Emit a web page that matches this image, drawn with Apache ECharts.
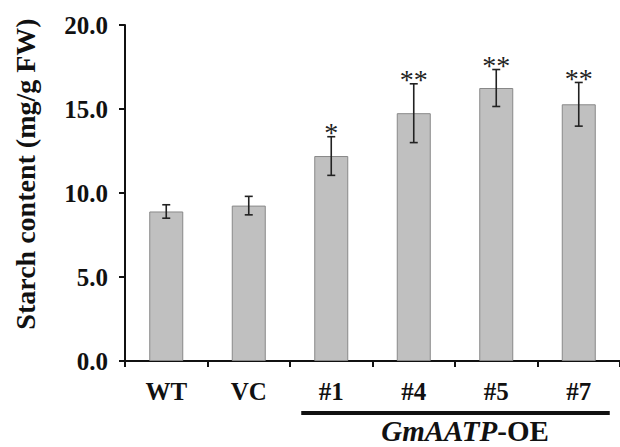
<!DOCTYPE html>
<html>
<head>
<meta charset="utf-8">
<script src="https://cdn.jsdelivr.net/npm/echarts@6/dist/echarts.min.js"></script>
<style>
  html, body { margin: 0; padding: 0; background: #fff; }
  #chart { width: 620px; height: 447px; }
</style>
</head>
<body>
<div id="chart"></div>
<script>
var categories = ['WT', 'VC', '#1', '#4', '#5', '#7'];
var means = [8.9, 9.25, 12.2, 14.75, 16.25, 15.28];
var errors = [0.4, 0.55, 1.15, 1.75, 1.1, 1.3];
var marks = ['', '', '*', '**', '**', '**'];
var groupFrom = 2, groupTo = 5;

var serif = '"Liberation Serif", "Times New Roman", serif';
var ink = '#111';

var chart = echarts.init(document.getElementById('chart'), null, { renderer: 'svg' });

chart.setOption({
  animation: false,
  grid: { left: 125, top: 25, bottom: 86, right: -10, containLabel: false },
  xAxis: {
    type: 'category',
    data: categories,
    axisLine: { lineStyle: { color: ink, width: 2 } },
    axisTick: { show: true, length: 6, lineStyle: { color: ink, width: 2 } },
    axisLabel: { color: ink, fontFamily: serif, fontWeight: 'bold', fontSize: 25, margin: 18 }
  },
  yAxis: {
    type: 'value',
    min: 0, max: 20, interval: 5,
    name: 'Starch content (mg/g FW)',
    nameLocation: 'middle',
    nameGap: 86,
    nameTextStyle: {
      color: ink, fontFamily: serif, fontWeight: 'bold', fontSize: 28,
      padding: [0, 0, 0, 38]
    },
    axisLine: { show: true, lineStyle: { color: ink, width: 2 } },
    axisTick: { show: true, length: 6, lineStyle: { color: ink, width: 2 } },
    axisLabel: {
      color: ink, fontFamily: serif, fontWeight: 'bold', fontSize: 25, margin: 17,
      formatter: function (v) { return v.toFixed(1); }
    },
    splitLine: { show: false }
  },
  series: [
    {
      type: 'bar',
      data: means,
      barWidth: 34,
      itemStyle: { color: '#c0c0c0', borderColor: '#888', borderWidth: 1 }
    },
    {
      type: 'custom',
      data: means.map(function (m, i) { return [i, m - errors[i], m + errors[i]]; }),
      renderItem: function (params, api) {
        var lo = api.coord([api.value(0), api.value(1)]);
        var hi = api.coord([api.value(0), api.value(2)]);
        var x = lo[0], cap = 4;
        var st = { stroke: '#222', lineWidth: 1.6 };
        return {
          type: 'group',
          children: [
            { type: 'line', shape: { x1: x, y1: lo[1], x2: x, y2: hi[1] }, style: st },
            { type: 'line', shape: { x1: x - cap, y1: lo[1], x2: x + cap, y2: lo[1] }, style: st },
            { type: 'line', shape: { x1: x - cap, y1: hi[1], x2: x + cap, y2: hi[1] }, style: st },
            {
              type: 'text',
              style: {
                text: marks[params.dataIndex],
                x: x, y: hi[1] + 10,
                align: 'center', verticalAlign: 'bottom',
                fontFamily: serif, fontSize: 28, fill: '#222'
              }
            }
          ]
        };
      },
      z: 3
    }
  ]
});

var a = chart.convertToPixel({ xAxisIndex: 0 }, groupFrom);
var b = chart.convertToPixel({ xAxisIndex: 0 }, groupTo);
chart.setOption({
  graphic: [
    {
      type: 'line',
      shape: { x1: a - 30, y1: 413, x2: b + 31, y2: 413 },
      style: { stroke: ink, lineWidth: 4 }
    },
    {
      type: 'text',
      style: {
        text: '{i|GmAATP}{n|-OE}',
        x: (a + b) / 2 + 10, y: 431,
        align: 'center', verticalAlign: 'middle',
        rich: {
          i: { fontFamily: serif, fontWeight: 'bold', fontStyle: 'italic', fontSize: 29, fill: ink },
          n: { fontFamily: serif, fontWeight: 'bold', fontSize: 29, fill: ink }
        }
      }
    }
  ]
});

window.addEventListener('resize', function () { chart.resize(); });
</script>
</body>
</html>
